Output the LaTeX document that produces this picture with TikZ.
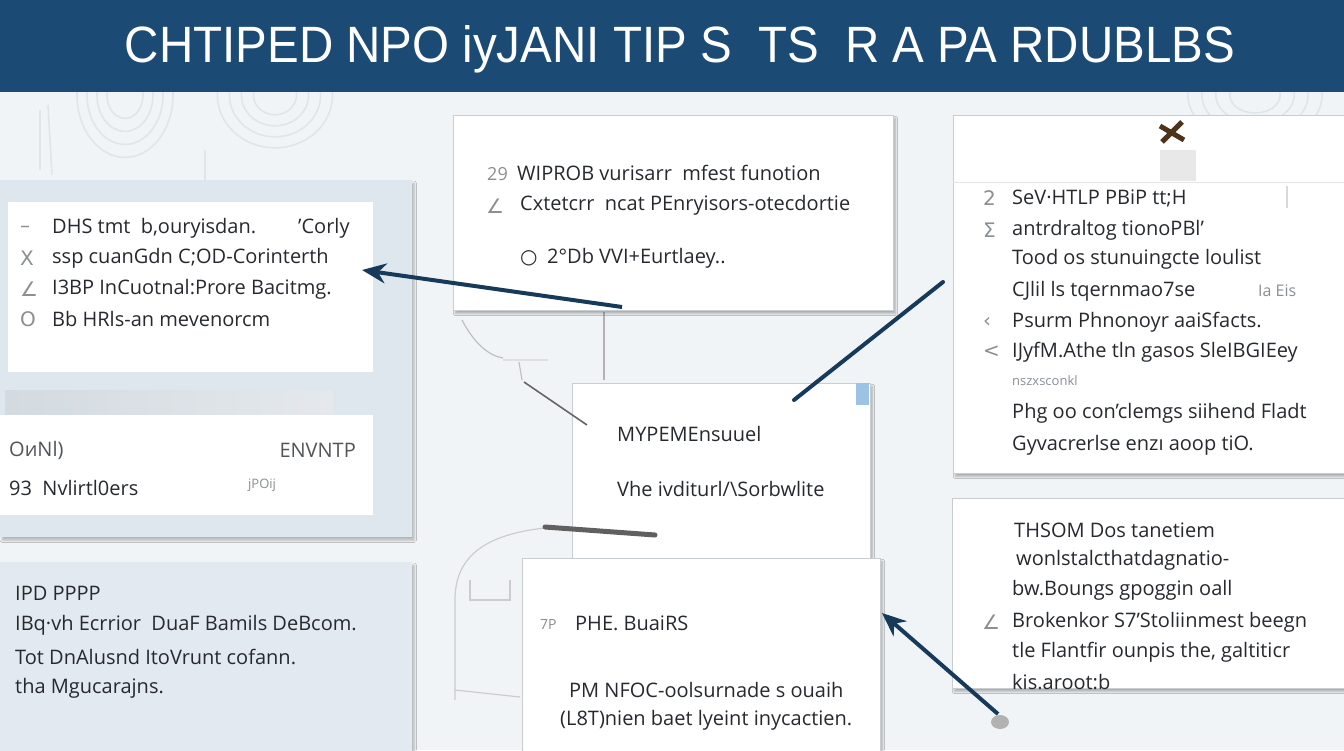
\documentclass[tikz,border=0pt]{standalone}
\usepackage{fontspec}
\setmainfont{Open Sans}
\newfontfamily\titlefont{Liberation Sans}
\newfontfamily\symfont{DejaVu Sans}
\usetikzlibrary{arrows.meta,shadows.blur}
\definecolor{titlec}{HTML}{1B4A75}
\definecolor{bgc}{HTML}{F1F4F7}
\definecolor{panelc}{HTML}{DEE6EE}
\definecolor{panelb}{HTML}{E3E9F0}
\definecolor{stripc}{HTML}{D3DAE0}
\definecolor{cardline}{HTML}{C8CDD2}
\definecolor{txtc}{HTML}{262A2E}
\definecolor{icoc}{HTML}{8A8F94}
\definecolor{arrc}{HTML}{173A5A}
\definecolor{decoc}{HTML}{E0E5EA}
\definecolor{tabc}{HTML}{9CC3E6}
\tikzset{
  panel/.style={fill=panelc, draw=none, inner sep=0, anchor=north west,
    blur shadow={shadow blur steps=6, shadow xshift=2pt, shadow yshift=-3pt, shadow opacity=25}},
  card/.style={fill=white, draw=cardline, line width=0.8pt, inner sep=0, anchor=north west,
    blur shadow={shadow blur steps=6, shadow xshift=2pt, shadow yshift=-3pt, shadow opacity=30}},
  flatcard/.style={fill=white, draw=none, inner sep=0, anchor=north west},
  txt/.style={anchor=west, font=\fontsize{20}{23}\selectfont, text=txtc, inner sep=0},
  smalltxt/.style={anchor=west, font=\fontsize{13}{15}\selectfont, text=icoc, inner sep=0},
  ico/.style={anchor=west, font=\symfont\fontsize{20}{22}\selectfont, text=icoc, inner sep=0},
  arr/.style={draw=arrc, line width=4pt, -{Stealth[length=24pt,width=20pt]}},
  plainline/.style={draw=arrc, line width=4pt, line cap=round},
  deco/.style={draw=decoc, line width=1.6pt},
  thin/.style={draw=gray!70, line width=1.2pt}
}
\begin{document}
\begin{tikzpicture}[x=1pt,y=-1pt]
\useasboundingbox (0,0) rectangle (1344,750);
\fill[bgc] (0,0) rectangle (1344,750);

% faint background swirls
\foreach \r in {18,28,38,48}{
  \draw[deco] (125,95) ellipse ({\r pt} and {\r*1.3 pt});
  \draw[deco] (275,95) ellipse ({\r*1.2 pt} and {\r*1.1 pt});
  \draw[deco] (1255,95) ellipse ({\r*1.4 pt} and {\r pt});
}
\draw[deco] (40,110) -- (40,170);
\draw[deco] (48,105) -- (52,175);
\draw[deco] (205,150) -- (205,185);

% title bar
\fill[titlec] (0,0) rectangle (1344,92);
\node[inner sep=0, text=white] (title) at (680,49)
  {\resizebox{1110pt}{37pt}{\titlefont\fontsize{50}{50}\selectfont CHTIPED NPO iyJANI TIP S \ TS \ R A PA RDUBLBS}};

% ---------- left column ----------
\node[panel, minimum width=412pt, minimum height=357pt] (lp) at (0,180) {};
\node[flatcard, minimum width=365pt, minimum height=170pt] (lb1) at (8,202) {};
\shade[left color=stripc, right color=stripc!60] (5,390) rectangle (333,415);
\node[flatcard, minimum width=373pt, minimum height=100pt] (lb2) at (0,415) {};
\node[panel, fill=panelb, minimum width=412pt, minimum height=190pt] (lp3) at (0,562) {};

\node[ico] (i11) at (20,229) {–};
\node[txt] (t11) at (52,228) {DHS tmt \ b,ouryisdan.};
\node[txt] (t11b) at (298,228) {'Corly};
\node[ico] (i12) at (20,258) {X};
\node[txt] (t12) at (52,258) {ssp cuanGdn C;OD-Corinterth};
\node[ico] (i13) at (20,289) {∠};
\node[txt] (t13) at (52,289) {I3BP InCuotnal:Prore Bacitmg.};
\node[ico] (i14) at (20,319) {O};
\node[txt] (t14) at (52,319) {Bb HRls-an mevenorcm};

\node[txt, text=txtc!80] (t21) at (9,450) {OиNl)};
\node[txt, text=txtc!80, anchor=east] (t22) at (356,450) {ENVNTP};
\node[txt] (t23) at (9,488) {93 \ Nvlirtl0ers};
\node[smalltxt] (t24) at (248,485) {jPOij};

\node[txt] (t31) at (15,593) {IPD PPPP};
\node[txt] (t32) at (15,625) {IBq·vh Ecrrior \ DuaF Bamils DeBcom.};
\node[txt] (t33) at (15,657) {Tot DnAlusnd ItoVrunt cofann.};
\node[txt] (t34) at (15,688) {tha Mgucarajns.};

% ---------- center column ----------
% decorative outlines
\draw[thin, draw=gray!50] (462,320) .. controls (475,345) and (490,356) .. (503,358);
\draw[thin, draw=gray!25] (503,360) -- (548,360);
\draw[thin, draw=gray!50] (519,362) -- (522,380);
\draw[thin, draw=gray!60] (604,312) -- (604,380);
\draw[thin, draw=gray!40] (455,700) -- (455,600) .. controls (455,560) and (480,535) .. (545,528);
\draw[thin, draw=gray!40] (455,690) -- (520,697);
\draw[thin, draw=gray!40] (470,580) -- (470,600) -- (510,600) -- (510,580);

\node[card, minimum width=440pt, minimum height=195pt] (ct) at (453,115) {};
\node[card, minimum width=298pt, minimum height=175pt] (cm) at (572,383) {};
\node[card, minimum width=358pt, minimum height=200pt] (cb) at (522,558) {};
\fill[tabc] (856,383) rectangle (869,405);

\node[txt, font=\fontsize{18}{20}\selectfont, text=icoc] (c10) at (487,174) {29};
\node[txt] (c11) at (517,173) {WIPROB vurisarr \ mfest funotion};
\node[ico] (c20) at (486,206) {∠};
\node[txt] (c21) at (520,205) {Cxtetcrr \ ncat PEnryisors-otecdortie};
\node[ico, text=txtc] (c30) at (520,258) {○};
\node[txt] (c31) at (547,258) {2°Db VVI+Eurtlaey..};

\node[txt] (m11) at (617,434) {MYPEMEnsuuel};
\node[txt] (m12) at (617,489) {Vhe ivditurl/\textbackslash Sorbwlite};

\node[txt, font=\fontsize{14}{16}\selectfont, text=icoc] (b10) at (540,624) {7P};
\node[txt] (b11) at (575,623) {PHE. BuaiRS};
\node[txt] (b12) at (569,690) {PM NFOC-oolsurnade s ouaih};
\node[txt] (b13) at (560,720) {(L8T)nien baet lyeint inycactien.};

% ---------- right column ----------
\node[card, minimum width=400pt, minimum height=358pt] (rt) at (953,115) {};
\draw[draw=gray!20, line width=1pt] (953,182) -- (1344,182);
\fill[gray!18] (1160,150) rectangle (1196,181);
\draw[draw=gray!30, line width=2pt] (1287,186) -- (1287,208);
\draw[draw=brown!40!black, line width=5pt] (1160,126) -- (1184,140);
\draw[draw=brown!40!black, line width=5pt] (1162,142) -- (1182,122);

\node[ico] (r10) at (983,198) {2};
\node[txt] (r11) at (1012,198) {SeV·HTLP PBiP tt;H};
\node[ico] (r20) at (983,230) {Σ};
\node[txt] (r21) at (1012,230) {antrdraltog tionoPBl'};
\node[txt] (r31) at (1012,259) {Tood os stunuingcte loulist};
\node[txt] (r41) at (1012,291) {CJlil ls tqernmao7se};
\node[txt, text=icoc, font=\fontsize{16}{20}\selectfont] (r42) at (1258,291) {Ia Eis};
\node[ico] (r50) at (983,322) {‹};
\node[txt] (r51) at (1012,322) {Psurm Phnonoyr aaiSfacts.};
\node[ico] (r60) at (983,352) {<};
\node[txt] (r61) at (1012,352) {IJyfM.Athe tln gasos SleIBGIEey};
\node[smalltxt] (r71) at (1012,381) {nszxsconkl};
\node[txt] (r81) at (1012,413) {Phg oo con'clemgs siihend Fladt};
\node[txt] (r91) at (1012,445) {Gyvacrerlse enzı aoop tiO.};

\node[card, minimum width=400pt, minimum height=190pt] (rb) at (952,498) {};
\node[txt] (s11) at (1014,530) {THSOM Dos tanetiem};
\node[txt] (s21) at (1016,560) {wonlstalcthatdagnatio-};
\node[txt] (s31) at (1012,590) {bw.Boungs gpoggin oall};
\node[ico] (s40) at (982,622) {∠};
\node[txt] (s41) at (1012,622) {Brokenkor S7'Stoliinmest beegn};
\node[txt] (s51) at (1012,652) {tle Flantfir ounpis the, galtiticr};
\node[txt] (s61) at (1012,682) {kis.aroot:b};

% ---------- connectors ----------
\coordinate (a1s) at (622,307);
\coordinate (a1e) at (362,270);
\draw[arr] (a1s) -- (a1e);

\coordinate (l2s) at (943,282);
\coordinate (l2e) at (794,400);
\draw[plainline] (l2s) -- (l2e);

\coordinate (a3s) at (998,714);
\coordinate (a3e) at (882,613);
\draw[arr] (a3s) -- (a3e);
\fill[gray!60] (1000,722) ellipse (9pt and 7pt);

\coordinate (g1s) at (545,527);
\coordinate (g1e) at (655,535);
\draw[draw=gray!75!black, line width=5pt, line cap=round] (g1s) -- (g1e);
\coordinate (k1s) at (524,382);
\coordinate (k1e) at (587,425);
\draw[draw=gray!80!black, line width=1.6pt] (k1s) -- (k1e);
\end{tikzpicture}
\end{document}
